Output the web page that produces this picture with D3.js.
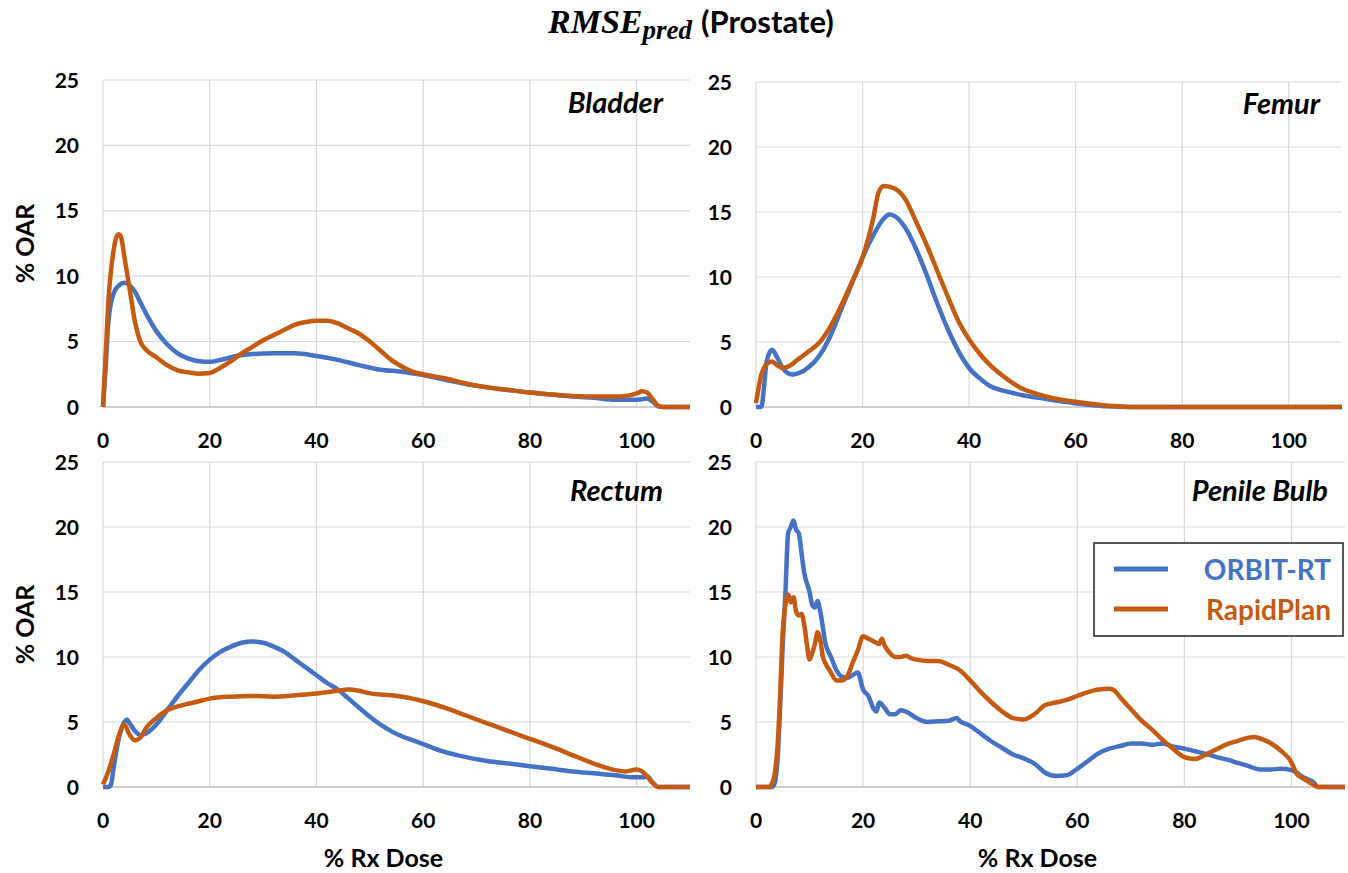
<!DOCTYPE html>
<html>
<head>
<meta charset="utf-8">
<script src="https://cdn.jsdelivr.net/npm/d3@7"></script>
<style>
  body { margin: 0; background: #fff; }
  text { font-family: Lato, "Open Sans", sans-serif; font-weight: bold; }
</style>
</head>
<body>
<div id="chart"></div>
<script>
// values: [% Rx Dose, % OAR]
var bladderOrbit = [[0,0],[0.5,3],[1,6.5],[2,8.7],[3,9.3],[4,9.5],[5,9.3],[6,8.8],[7,8.0],[8,7.2],[10,5.8],[12,4.8],[14,4.1],[16,3.7],[18,3.5],[20,3.45],[22,3.6],[25,3.9],[28,4.05],[32,4.1],[36,4.1],[40,3.9],[44,3.6],[48,3.2],[52,2.85],[56,2.7],[60,2.45],[64,2.1],[68,1.75],[72,1.5],[76,1.3],[80,1.1],[84,0.95],[88,0.8],[92,0.7],[96,0.55],[99,0.55],[101,0.6],[102,0.65],[103,0.4],[104,0.05],[105,0],[110,0]];
var bladderRapid = [[0,0],[0.5,4],[1,8],[2,12],[2.5,13],[3,13.2],[3.5,12.8],[4,11.5],[5,9],[6,6.5],[7,5],[8,4.4],[10,3.8],[12,3.2],[14,2.8],[16,2.65],[18,2.55],[20,2.6],[22,3.0],[24,3.5],[26,4.1],[28,4.6],[30,5.1],[32,5.5],[34,5.9],[36,6.3],[38,6.5],[40,6.6],[42,6.6],[44,6.4],[46,6.0],[48,5.6],[50,5.0],[52,4.3],[54,3.6],[56,3.1],[58,2.7],[60,2.5],[64,2.2],[68,1.8],[72,1.5],[76,1.3],[80,1.1],[84,0.95],[88,0.85],[92,0.8],[96,0.8],[98,0.85],[100,1.05],[101,1.2],[102,1.1],[103,0.6],[104,0.1],[105,0],[110,0]];

var femurOrbit = [[0,0],[1,0],[1.5,1.5],[2,3.5],[3,4.4],[4,3.8],[5,3.0],[6,2.6],[7,2.5],[8,2.6],[10,3.1],[12,4.0],[14,5.5],[16,7.5],[18,9.5],[20,11.5],[22,13.2],[24,14.5],[25,14.8],[26,14.7],[28,13.8],[30,12.2],[32,10.2],[34,8.0],[36,6.0],[38,4.3],[40,3.0],[42,2.2],[44,1.6],[46,1.3],[48,1.1],[50,0.9],[54,0.65],[58,0.4],[62,0.2],[66,0.05],[70,0],[110,0]];
var femurRapid = [[0,0.3],[0.5,1.5],[1,2.5],[2,3.3],[3,3.5],[4,3.2],[5,3.0],[6,3.1],[8,3.7],[10,4.3],[12,5.0],[14,6.2],[16,7.8],[18,9.6],[20,11.5],[22,14.5],[23,16.5],[24,17.0],[26,16.8],[28,16.0],[30,14.3],[32,12.5],[34,10.5],[36,8.5],[38,6.6],[40,5.2],[42,4.1],[44,3.2],[46,2.5],[48,1.9],[50,1.4],[52,1.1],[54,0.85],[56,0.65],[60,0.4],[64,0.2],[68,0.05],[70,0],[110,0]];

var rectumOrbit = [[0,0],[1,0],[1.5,0.2],[2,1.5],[3,3.8],[4,5.0],[4.5,5.2],[5,4.9],[6,4.3],[7,4.0],[8,4.1],[10,4.8],[12,5.9],[14,7.0],[16,8.0],[18,9.0],[20,9.8],[22,10.4],[24,10.8],[26,11.1],[28,11.2],[30,11.1],[32,10.8],[34,10.4],[36,9.8],[38,9.2],[40,8.6],[42,8.0],[44,7.5],[46,6.8],[48,6.1],[50,5.4],[52,4.8],[54,4.3],[56,3.9],[58,3.6],[60,3.3],[64,2.7],[68,2.3],[72,2.0],[76,1.8],[80,1.6],[84,1.4],[88,1.2],[92,1.05],[96,0.9],[99,0.75],[101,0.75],[102,0.8],[103,0.35],[104,0],[110,0]];
var rectumRapid = [[0,0.2],[1,1.2],[2,2.5],[3,4.0],[4,4.8],[5,4.0],[6,3.6],[7,3.8],[8,4.5],[10,5.3],[12,5.9],[14,6.2],[16,6.4],[18,6.6],[20,6.8],[24,6.95],[28,7.0],[32,6.95],[36,7.05],[40,7.2],[44,7.4],[46,7.5],[48,7.4],[50,7.2],[54,7.05],[58,6.8],[60,6.6],[64,6.1],[68,5.5],[72,4.9],[76,4.3],[80,3.7],[84,3.1],[88,2.45],[92,1.8],[96,1.3],[98,1.2],[100,1.35],[101,1.2],[102,0.8],[103,0.3],[104,0],[110,0]];

var bulbOrbit = [[0,0],[3,0],[3.5,0.3],[4,2],[4.5,6],[5,11],[5.5,15],[6,19.5],[6.5,20],[7,20.5],[7.5,19.8],[8,19.5],[8.5,18],[9,16.5],[10,15],[10.5,14],[11,13.8],[11.5,14.3],[12,13.5],[13,11],[14,10],[15,9],[16,8.5],[17,8.4],[18,8.6],[19,8.8],[20,7.5],[21,7.0],[22,6.0],[22.5,5.8],[23,6.5],[24,6.1],[25,5.6],[26,5.6],[27,5.9],[28,5.8],[30,5.3],[32,5.0],[34,5.05],[36,5.1],[37.5,5.3],[38,5.1],[40,4.7],[42,4.1],[44,3.5],[46,3.0],[48,2.5],[50,2.2],[52,1.8],[54,1.1],[56,0.85],[58,0.9],[60,1.4],[62,2.0],[64,2.6],[66,2.95],[68,3.15],[70,3.35],[72,3.35],[74,3.25],[76,3.35],[78,3.1],[80,2.95],[82,2.75],[84,2.55],[86,2.3],[88,2.1],[90,1.85],[92,1.6],[94,1.35],[96,1.35],[98,1.4],[100,1.3],[101,1.1],[102,0.8],[103,0.6],[104,0.4],[105,0],[110,0]];
var bulbRapid = [[0,0],[2.5,0],[3,0.3],[3.5,1],[4,3],[4.5,7],[5,12],[5.5,14],[6,14.8],[6.5,14.2],[7,14.6],[7.5,13.5],[8,13.2],[8.5,13.3],[9,12.5],[9.5,11],[10,9.8],[10.5,10.3],[11,11],[11.5,11.9],[12,11.3],[12.5,10],[13,9.5],[14,8.8],[15,8.2],[16,8.2],[17,8.5],[18,9.5],[19,10.5],[20,11.6],[21,11.4],[22,11.2],[23,11.0],[23.5,11.4],[24,10.9],[25,10.3],[26,10.0],[27,10.0],[28,10.1],[29,9.9],[30,9.8],[32,9.7],[34,9.7],[36,9.4],[38,9.0],[40,8.2],[42,7.3],[44,6.5],[46,5.8],[48,5.3],[50,5.2],[52,5.6],[54,6.3],[56,6.5],[58,6.7],[60,7.0],[62,7.3],[64,7.5],[66,7.55],[67,7.4],[68,6.9],[70,6.0],[72,5.1],[74,4.4],[76,3.6],[78,2.9],[80,2.3],[82,2.15],[84,2.5],[86,2.9],[88,3.3],[90,3.55],[92,3.8],[93,3.85],[94,3.75],[96,3.4],[98,2.8],[100,1.9],[101,1.0],[102,0.7],[103,0.45],[104,0.2],[105,0],[110,0]];

var xTicks = [0, 20, 40, 60, 80, 100];
var yTicks = [0, 5, 10, 15, 20, 25];
var seriesNames = ["ORBIT-RT", "RapidPlan"];
var colors = ["#4472C4", "#C55A11"];

var W = 1348, H = 873;
var svg = d3.select("#chart").append("svg")
    .attr("width", W)
    .attr("height", H);

// one entry per panel: where it sits and what it shows
var panels = [
  {name: "Bladder",     data: [bladderOrbit, bladderRapid], x0: 103, x1: 690, y0: 407, y1: 80,  nameX: 663,  nameY: 113, yLabel: true,  xLabel: false},
  {name: "Femur",       data: [femurOrbit, femurRapid],     x0: 756, x1: 1342, y0: 407, y1: 82, nameX: 1320, nameY: 114, yLabel: false, xLabel: false},
  {name: "Rectum",      data: [rectumOrbit, rectumRapid],   x0: 103, x1: 690, y0: 787, y1: 462, nameX: 663,  nameY: 501, yLabel: true,  xLabel: true},
  {name: "Penile Bulb", data: [bulbOrbit, bulbRapid],       x0: 756, x1: 1345, y0: 787, y1: 462, nameX: 1328, nameY: 501, yLabel: false, xLabel: true}
];

panels.forEach(function(p) {
  var x = d3.scaleLinear().domain([0, 110]).range([p.x0, p.x1]);
  var y = d3.scaleLinear().domain([0, 25]).range([p.y0, p.y1]);
  var g = svg.append("g");

  // grid
  g.selectAll(".vgrid").data(xTicks).enter().append("line")
      .attr("x1", function(d) { return x(d); })
      .attr("x2", function(d) { return x(d); })
      .attr("y1", y(0)).attr("y2", y(25))
      .attr("stroke", "#d9d9d9").attr("stroke-width", 1.2);
  g.selectAll(".hgrid").data(yTicks).enter().append("line")
      .attr("x1", x(0)).attr("x2", x(110))
      .attr("y1", function(d) { return y(d); })
      .attr("y2", function(d) { return y(d); })
      .attr("stroke", function(d) { return d === 0 ? "#bfbfbf" : "#d9d9d9"; })
      .attr("stroke-width", function(d) { return d === 0 ? 1.6 : 1.2; });

  // tick labels
  g.selectAll(".ytl").data(yTicks).enter().append("text")
      .attr("x", p.x0 - 24)
      .attr("y", function(d) { return y(d) + 7.5; })
      .attr("text-anchor", "end")
      .attr("font-size", 21)
      .attr("fill", "#000")
      .text(function(d) { return d; });
  g.selectAll(".xtl").data(xTicks).enter().append("text")
      .attr("x", function(d) { return x(d); })
      .attr("y", p.y0 + 41)
      .attr("text-anchor", "middle")
      .attr("font-size", 21)
      .attr("fill", "#000")
      .text(function(d) { return d; });

  // curves
  var line = d3.line()
      .x(function(d) { return x(d[0]); })
      .y(function(d) { return y(d[1]); })
      .curve(d3.curveMonotoneX);
  p.data.forEach(function(s, i) {
    g.append("path")
        .datum(s)
        .attr("d", line)
        .attr("fill", "none")
        .attr("stroke", colors[i])
        .attr("stroke-width", 4.5)
        .attr("stroke-linejoin", "round");
  });

  // organ name
  g.append("text")
      .attr("x", p.nameX).attr("y", p.nameY)
      .attr("text-anchor", "end")
      .attr("font-size", 29)
      .attr("font-style", "italic")
      .text(p.name);

  if (p.yLabel) {
    g.append("text")
        .attr("transform", "translate(34," + ((p.y0 + p.y1) / 2) + ") rotate(-90)")
        .attr("text-anchor", "middle")
        .attr("font-size", 25)
        .text("% OAR");
  }
  if (p.xLabel) {
    g.append("text")
        .attr("x", (p.x0 + p.x1) / 2 - 13)
        .attr("y", 867)
        .attr("text-anchor", "middle")
        .attr("font-size", 25)
        .text("% Rx Dose");
  }
});

// title
var title = svg.append("text")
    .attr("x", 548).attr("y", 33);
title.append("tspan")
    .attr("font-family", "'Liberation Serif', 'DejaVu Serif', serif")
    .attr("font-style", "italic")
    .attr("font-size", 34)
    .text("RMSE");
title.append("tspan")
    .attr("font-family", "'Liberation Serif', 'DejaVu Serif', serif")
    .attr("font-style", "italic")
    .attr("font-size", 27)
    .attr("dy", 6)
    .text("pred");
title.append("tspan")
    .attr("font-size", 31)
    .attr("dy", -6)
    .attr("dx", 9)
    .text("(Prostate)");

// legend
var leg = svg.append("g");
leg.append("rect")
    .attr("x", 1094).attr("y", 543)
    .attr("width", 249).attr("height", 93)
    .attr("fill", "#fff")
    .attr("stroke", "#222").attr("stroke-width", 1.5);
seriesNames.forEach(function(n, i) {
  var ly = 569 + i * 40;
  leg.append("line")
      .attr("x1", 1114).attr("x2", 1168)
      .attr("y1", ly).attr("y2", ly)
      .attr("stroke", colors[i]).attr("stroke-width", 5);
  leg.append("text")
      .attr("x", 1331).attr("y", ly + 11)
      .attr("text-anchor", "end")
      .attr("font-size", 28)
      .attr("fill", colors[i])
      .text(n);
});
</script>
</body>
</html>
